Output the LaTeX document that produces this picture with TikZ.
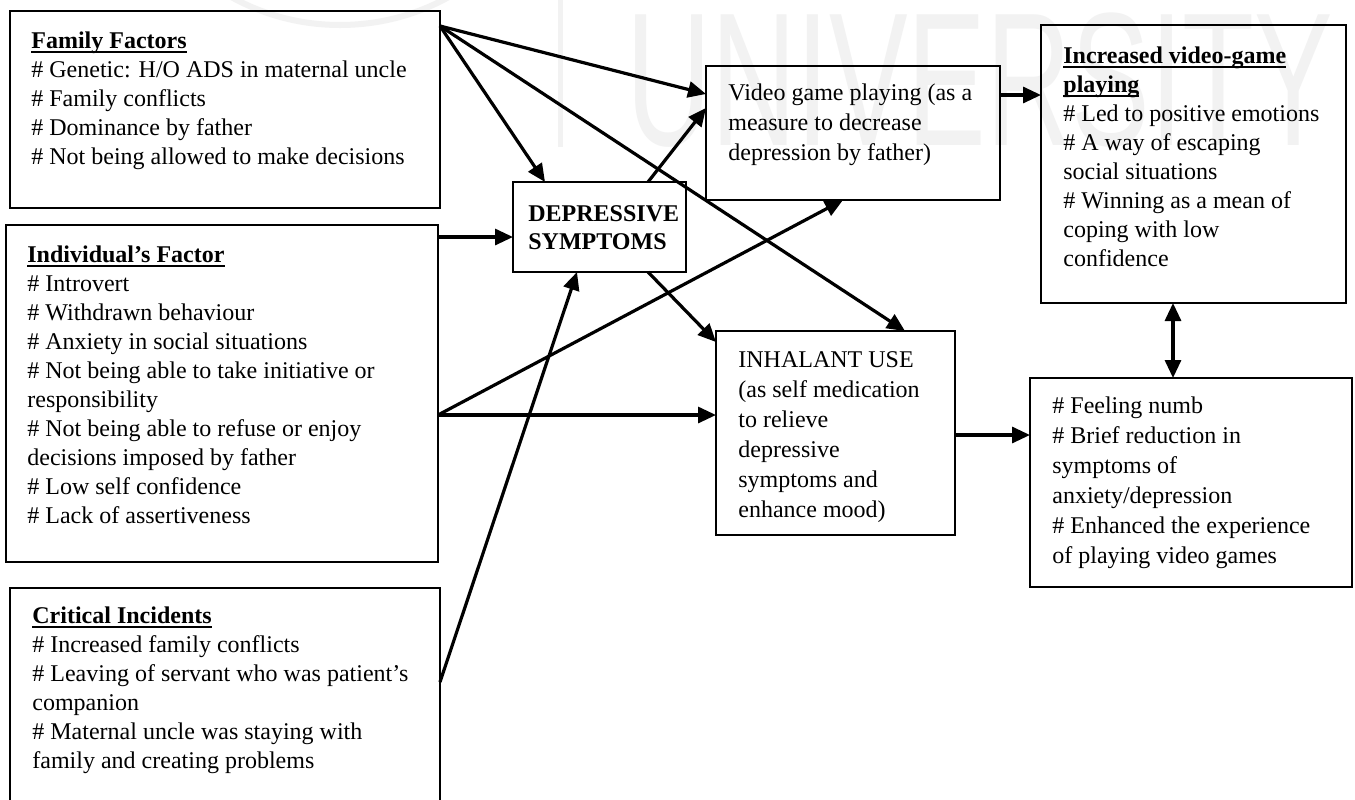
\documentclass[tikz,border=0pt]{standalone}
\usepackage{fontspec}
\setmainfont{Liberation Serif}
\newfontfamily\wmfont{Liberation Sans}
\usetikzlibrary{arrows.meta,calc}
\newcommand{\hdr}[1]{\setbox0\hbox{\textbf{#1}}\rlap{\rule[-2.4pt]{\wd0}{0.9pt}}\box0}
\tikzset{
  box/.style={draw, line width=0.8pt, anchor=north west, inner sep=0pt, outer sep=0pt},
  txt/.style={anchor=north west, align=left, inner sep=0pt, font=\fontsize{12}{14.5}\selectfont},
  txtw/.style={txt, font=\fontsize{12}{15}\selectfont},
  txtn/.style={txt, font=\fontsize{12}{14}\selectfont},
  arr/.style={line width=1.6pt, -{Triangle[length=9pt,width=8pt]}},
  dbl/.style={line width=1.6pt, {Triangle[length=9pt,width=8pt]}-{Triangle[length=9pt,width=8pt]}},
  wm/.style={text=black!5, inner sep=0pt, font=\wmfont\fontsize{95}{95}\selectfont, xscale=0.62},
  wmline/.style={draw=black!5}
}
\begin{document}
\begin{tikzpicture}[x=0.5pt,y=-0.5pt]
\useasboundingbox (0,0) rectangle (1355,799);
\clip (0,0) rectangle (1355,799);
\fill[white] (0,0) rectangle (1355,799);
% watermark
\node[wm] (wmark) at (980,80) {UNIVERSITY};
\draw[wmline, line width=2.5pt] (560,0) -- (560,147);
\draw[wmline, line width=3pt] (340,-200) circle (225);
% boxes
\node[box, minimum width=215pt, minimum height=98.5pt] (fam) at (10,11) {};
\node[box, minimum width=216pt, minimum height=168.5pt] (ind) at (6,225) {};
\node[box, minimum width=215pt, minimum height=121pt] (crit) at (10,588) {};
\node[box, minimum width=86.5pt, minimum height=45pt] (dep) at (513,182) {};
\node[box, minimum width=147pt, minimum height=67pt] (vid) at (706,66) {};
\node[box, minimum width=119.5pt, minimum height=102pt] (inh) at (716,331) {};
\node[box, minimum width=152.5pt, minimum height=139pt] (inc) at (1041,25) {};
\node[box, minimum width=161pt, minimum height=104.5pt] (eff) at (1030,378) {};
% texts
\node[txt] (famT) at (31,27.7) {\strut\hdr{Family Factors}\\
\# Genetic: H/O ADS in maternal uncle\\
\# Family conflicts\\
\# Dominance by father\\
\# Not being allowed to make decisions};
\node[txt] (indT) at (27,241.7) {\strut\hdr{Individual’s Factor}\\
\# Introvert\\
\# Withdrawn behaviour\\
\# Anxiety in social situations\\
\# Not being able to take initiative or\\
responsibility\\
\# Not being able to refuse or enjoy\\
decisions imposed by father\\
\# Low self confidence\\
\# Lack of assertiveness};
\node[txt] (critT) at (32,602.7) {\strut\hdr{Critical Incidents}\\
\# Increased family conflicts\\
\# Leaving of servant who was patient’s\\
companion\\
\# Maternal uncle was staying with\\
family and creating problems};
\node[txtn] (depT) at (528,201.4) {\strut\textbf{DEPRESSIVE}\\\textbf{SYMPTOMS}};
\node[txtw] (vidT) at (728,79) {\strut Video game playing (as a\\
measure to decrease\\
depression by father)};
\node[txtw] (inhT) at (738,346) {\strut INHALANT USE\\
(as self medication\\
to relieve\\
depressive\\
symptoms and\\
enhance mood)};
\node[txt] (incT) at (1063,42.7) {\strut\hdr{Increased video-game}\\
\hdr{playing}\\
\# Led to positive emotions\\
\# A way of escaping\\
social situations\\
\# Winning as a mean of\\
coping with low\\
confidence};
\node[txtw] (effT) at (1052,392) {\strut\# Feeling numb\\
\# Brief reduction in\\
symptoms of\\
anxiety/depression\\
\# Enhanced the experience\\
of playing video games};
% connectors
\coordinate (famO) at ($(fam.north east)+(0,15)$);
\coordinate (indA) at ($(ind.north east)+(0,12)$);
\coordinate (indB) at ($(ind.north east)+(0,190)$);
\coordinate (critO) at ($(crit.north east)+(0,94)$);
\draw[arr] (famO) -- ($(vid.north west)+(0,28)$);
\draw[arr] (famO) -- ($(dep.north west)+(32,0)$);
\draw[arr] (famO) -- ($(inh.north west)+(189,0)$);
\draw[arr] (indA) -- ($(dep.north west)+(0,55)$);
\draw[arr] (indB) -- ($(inh.north west)+(0,84)$);
\draw[arr] (indB) -- ($(vid.south west)+(137,0)$);
\draw[arr] (critO) -- ($(dep.south west)+(64,0)$);
\draw[arr] ($(dep.north west)+(135,0)$) -- ($(vid.north west)+(0,42)$);
\draw[arr] ($(dep.south west)+(135,0)$) -- ($(inh.north west)+(0,11)$);
\draw[arr] ($(vid.north east)+(0,29)$) -- ($(inc.north west)+(0,70)$);
\draw[arr] ($(inh.north east)+(0,104)$) -- ($(eff.north west)+(0,57)$);
\draw[dbl] ($(inc.south west)+(132,0)$) -- ($(eff.north west)+(143,0)$);
\end{tikzpicture}
\end{document}
